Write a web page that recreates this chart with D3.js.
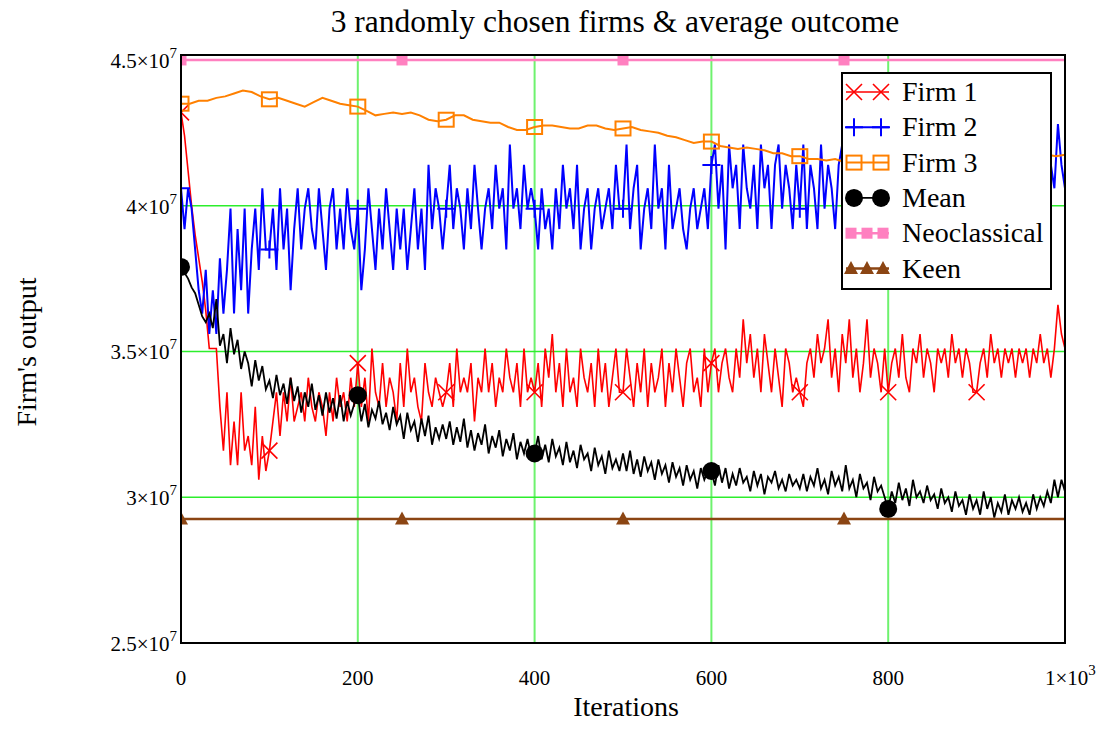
<!DOCTYPE html>
<html>
<head>
<meta charset="utf-8">
<script src="https://cdn.jsdelivr.net/npm/d3@7"></script>
<style>
  body { margin: 0; background: #fff; }
  text { font-family: "Liberation Serif", "Times New Roman", serif; fill: #000; }
</style>
</head>
<body>
<script>
// values in millions of units of output
// firm 1, firm 2 and the mean are sampled every 4 iterations (0..1000)
var firm1 = [
  43.2, 42.4, 41.2, 40.0, 39.0, 38.2, 37.4, 36.4, 35.1, 35.1, 35.1, 33.1, 31.6, 33.6, 31.1, 32.6, 31.1, 33.6, 31.6, 32.1, 31.1, 33.1, 30.6, 32.1, 30.9,
  31.6, 32.6, 33.6, 32.1, 33.6, 32.6, 34.1, 32.6, 33.1, 33.6, 32.6, 34.1, 33.1, 32.6, 33.6, 33.1, 32.1, 33.6, 32.6, 34.1, 33.1, 33.6, 32.6, 34.1, 33.1,
  34.6, 33.1, 34.1, 32.6, 35.1, 33.6, 33.1, 34.6, 33.1, 34.1, 33.6, 32.6, 34.6, 33.1, 35.1, 33.6, 34.1, 33.1, 32.6, 34.6, 33.6, 33.1, 34.1, 33.6, 33.1,
  33.6, 34.6, 33.1, 35.1, 33.6, 34.1, 33.6, 34.6, 32.6, 34.1, 33.6, 35.1, 33.6, 34.6, 33.1, 34.1, 33.6, 35.1, 34.1, 33.6, 34.6, 33.1, 35.1, 33.6, 34.1,
  33.6, 34.6, 33.1, 35.1, 34.1, 35.6, 33.6, 34.6, 33.1, 35.1, 33.6, 34.1, 33.1, 35.1, 34.1, 33.6, 34.6, 33.1, 35.1, 33.6, 34.6, 33.1, 34.1, 35.1, 33.6,
  33.6, 35.1, 34.1, 33.1, 34.6, 33.6, 35.1, 33.1, 34.6, 33.6, 34.1, 35.1, 33.1, 34.6, 33.6, 35.1, 34.1, 33.1, 34.6, 35.1, 33.6, 34.1, 33.1, 35.1, 33.6,
  34.6, 35.1, 33.6, 34.6, 35.1, 34.1, 33.6, 35.1, 34.1, 36.1, 34.6, 35.6, 34.1, 35.1, 33.6, 35.6, 34.6, 33.6, 35.1, 34.1, 33.1, 35.1, 34.6, 33.6, 34.1,
  33.6, 33.1, 34.6, 35.1, 34.1, 35.6, 34.6, 35.1, 36.1, 34.1, 35.1, 33.6, 35.6, 34.6, 36.1, 34.1, 35.1, 33.6, 34.6, 36.1, 34.1, 35.1, 34.6, 33.6, 35.1,
  33.6, 34.6, 35.1, 34.1, 35.6, 34.1, 33.6, 35.1, 34.6, 35.6, 34.1, 35.1, 34.6, 33.6, 35.1, 34.6, 35.1, 34.1, 35.6, 34.6, 35.1, 34.1, 35.1, 34.6, 33.6,
  33.6, 34.6, 35.1, 34.1, 35.6, 34.6, 35.1, 34.1, 35.1, 34.6, 35.1, 34.1, 35.1, 34.6, 35.1, 34.1, 35.1, 34.6, 35.6, 34.6, 35.1, 34.1, 35.1, 36.6, 35.6,
  35.1
];
var firm2 = [
  40.6, 39.2, 40.6, 39.9, 38.5, 37.1, 36.3, 37.8, 35.6, 37.1, 35.6, 38.2, 36.3, 37.8, 39.9, 36.3, 39.2, 37.1, 39.9, 36.3, 38.5, 39.9, 37.8, 40.6, 38.5,
  38.5, 39.9, 37.8, 40.6, 38.5, 39.9, 37.1, 39.2, 40.6, 38.5, 39.9, 40.6, 39.2, 38.5, 40.6, 39.2, 37.8, 39.9, 40.6, 38.5, 39.9, 38.5, 40.6, 39.2, 38.5,
  39.9, 37.1, 38.5, 40.6, 39.2, 37.8, 39.9, 38.5, 40.6, 39.2, 37.8, 39.9, 38.5, 39.9, 37.8, 39.2, 40.6, 38.5, 39.9, 37.8, 41.4, 39.2, 40.6, 39.9, 38.5,
  39.9, 41.4, 39.2, 40.6, 39.9, 38.5, 40.6, 39.2, 41.4, 39.9, 38.5, 39.9, 40.6, 39.2, 41.4, 39.9, 40.6, 38.5, 42.1, 39.9, 40.6, 39.2, 41.4, 39.9, 40.6,
  39.9, 38.5, 40.6, 39.2, 39.9, 38.5, 40.6, 39.2, 41.4, 39.9, 40.6, 39.2, 41.4, 38.5, 39.9, 40.6, 38.5, 39.9, 40.6, 39.2, 39.9, 40.6, 39.2, 41.4, 39.9,
  39.9, 42.1, 39.2, 40.6, 41.4, 38.5, 39.9, 40.6, 39.2, 42.1, 39.9, 40.6, 38.5, 41.4, 39.2, 39.9, 40.6, 39.2, 38.5, 39.9, 40.6, 39.2, 39.9, 40.6, 39.2,
  41.4, 42.1, 39.9, 41.4, 38.5, 42.1, 40.6, 41.4, 39.2, 42.1, 40.6, 39.9, 41.4, 39.2, 42.1, 40.6, 41.4, 39.2, 41.4, 42.1, 39.9, 41.4, 40.6, 39.2, 41.4,
  39.9, 42.1, 39.2, 41.4, 40.6, 39.2, 42.1, 39.9, 41.4, 40.6, 39.2, 41.4, 42.1, 39.9, 40.6, 41.4, 39.2, 42.1, 40.6, 39.9, 41.4, 39.2, 40.6, 42.1, 39.9,
  40.6, 41.4, 39.2, 42.1, 39.9, 40.6, 41.4, 39.2, 40.6, 42.1, 39.9, 41.4, 40.6, 39.2, 41.4, 42.1, 39.9, 40.6, 41.4, 39.2, 42.1, 40.6, 39.9, 41.4, 40.6,
  39.9, 41.4, 40.6, 42.1, 39.2, 40.6, 41.4, 39.9, 42.1, 40.6, 39.9, 41.4, 40.6, 42.1, 39.9, 41.4, 40.6, 39.2, 41.4, 42.1, 40.6, 41.4, 40.6, 42.8, 41.4,
  40.6
];
var meanOut = [
  37.9, 37.7, 37.5, 37.2, 37.0, 36.6, 36.2, 36.0, 36.3, 35.8, 36.8, 35.2, 35.6, 34.6, 35.8, 34.9, 35.4, 34.4, 35.0, 34.6, 33.8, 34.7, 34.0, 34.5, 33.7,
  34.0, 33.4, 34.2, 33.5, 33.9, 33.2, 34.1, 33.3, 33.8, 32.9, 33.6, 33.1, 33.9, 33.0, 33.5, 32.8, 33.6, 32.9, 33.4, 32.7, 33.5, 32.6, 33.3, 32.8, 33.2,
  33.5, 32.6, 33.2, 32.4, 33.0, 32.7, 33.3, 32.5, 32.9, 32.3, 33.1, 32.5, 32.8, 32.0, 32.9, 32.3, 32.6, 31.9, 32.7, 32.1, 32.8, 31.8, 32.4, 32.0, 32.5,
  32.0, 32.6, 31.8, 32.4, 31.9, 32.7, 31.7, 32.3, 31.6, 32.2, 31.8, 32.5, 31.5, 32.1, 31.7, 32.3, 31.4, 32.0, 31.6, 32.2, 31.3, 31.9, 31.5, 32.0, 31.4,
  31.5, 32.1, 31.3, 31.8, 31.2, 32.0, 31.4, 31.7, 31.1, 31.9, 31.2, 31.6, 31.0, 31.8, 31.3, 31.5, 30.9, 31.7, 31.1, 31.4, 30.8, 31.6, 31.0, 31.3, 30.9,
  31.5, 30.9, 31.6, 30.8, 31.3, 30.7, 31.4, 30.9, 31.2, 30.6, 31.3, 30.8, 31.1, 30.5, 31.2, 30.7, 31.0, 30.4, 31.1, 30.6, 30.9, 30.3, 31.0, 30.6, 30.9,
  30.9, 30.4, 31.1, 30.5, 31.0, 30.3, 30.8, 30.4, 31.0, 30.5, 30.7, 30.2, 30.9, 30.4, 30.8, 30.1, 30.7, 30.5, 30.9, 30.3, 30.6, 30.2, 30.8, 30.4, 30.6,
  30.3, 30.8, 30.2, 30.7, 30.4, 31.0, 30.3, 30.6, 30.1, 30.9, 30.4, 30.7, 30.2, 31.1, 30.3, 30.6, 30.0, 30.8, 30.3, 30.5, 29.9, 30.7, 30.2, 30.4, 30.0,
  29.6, 30.2, 29.8, 30.5, 29.9, 30.3, 29.7, 30.6, 30.0, 30.2, 29.8, 30.4, 29.9, 30.1, 29.6, 30.3, 29.8, 30.0, 29.5, 30.2, 29.7, 29.9, 29.4, 30.1, 29.6,
  29.9, 29.4, 30.2, 29.6, 30.0, 29.3, 29.8, 29.5, 30.1, 29.4, 29.9, 29.6, 30.0, 29.5, 29.8, 29.4, 30.1, 29.6, 30.0, 29.7, 30.2, 29.8, 30.6, 30.0, 30.6,
  30.2
];
// firm 3 is smooth, sampled every 10 iterations (0..1000)
var firm3 = [
  43.5, 43.5, 43.6, 43.6, 43.7, 43.75, 43.85, 43.95, 43.9, 43.75,
  43.65, 43.7, 43.6, 43.5, 43.4, 43.55, 43.7, 43.6, 43.5, 43.45,
  43.4, 43.25, 43.1, 43.15, 43.2, 43.15, 43.2, 43.1, 42.95, 42.9,
  42.95, 43.1, 43.1, 42.95, 42.9, 42.85, 42.85, 42.7, 42.6, 42.6,
  42.7, 42.75, 42.75, 42.7, 42.65, 42.65, 42.75, 42.75, 42.65, 42.6,
  42.65, 42.7, 42.6, 42.55, 42.5, 42.4, 42.35, 42.25, 42.15, 42.2,
  42.2, 42.05, 42.0, 41.95, 42.0, 41.95, 41.9, 41.8, 41.8, 41.7,
  41.7, 41.6, 41.6, 41.55, 41.6, 41.5, 41.5, 41.55, 41.5, 41.45,
  41.5, 41.5, 41.45, 41.5, 41.5, 41.55, 41.5, 41.6, 41.55, 41.6,
  41.65, 41.6, 41.7, 41.65, 41.7, 41.75, 41.7, 41.8, 41.75, 41.7,
  41.75
];
var neoIters = [0, 250, 500, 750, 1000];
var neoclassical = [45.0, 45.0, 45.0, 45.0, 45.0];
var keenIters = [0, 250, 500, 750, 1000];
var keen = [29.25, 29.25, 29.25, 29.25, 29.25];

var markEvery100 = [0, 100, 200, 300, 400, 500, 600, 700, 800, 900];
var markEvery200 = [0, 200, 400, 600, 800];
var markEvery250 = [0, 250, 500, 750];

var yTicks = [25, 30, 35, 40, 45];
var yTickText = ['2.5', '3', '3.5', '4', '4.5'];
var xTicks = [0, 200, 400, 600, 800, 1000];
var xTickText = ['0', '200', '400', '600', '800', '1\u00d710'];

var width = 1099, height = 744;
var plotL = 181, plotR = 1065, plotT = 55, plotB = 643;

var x = d3.scaleLinear().domain([0, 1000]).range([plotL, plotR]);
var y = d3.scaleLinear().domain([25, 45.17]).range([plotB, plotT]);

var svg = d3.select('body').append('svg')
  .attr('width', width)
  .attr('height', height);

svg.append('defs').append('clipPath').attr('id', 'plot')
  .append('rect')
  .attr('x', plotL).attr('y', plotT - 6)
  .attr('width', plotR - plotL).attr('height', plotB - plotT + 6);

// gridlines
svg.append('g').selectAll('line')
  .data(xTicks.slice(1, -1))
  .enter().append('line')
  .attr('x1', function(d) { return x(d); })
  .attr('x2', function(d) { return x(d); })
  .attr('y1', plotT).attr('y2', plotB)
  .attr('stroke', '#6ef26e').attr('stroke-width', 2);
svg.append('g').selectAll('line')
  .data(yTicks.slice(1, -1))
  .enter().append('line')
  .attr('x1', plotL).attr('x2', plotR)
  .attr('y1', function(d) { return y(d); })
  .attr('y2', function(d) { return y(d); })
  .attr('stroke', '#2cee2c').attr('stroke-width', 1.4);

var plot = svg.append('g').attr('clip-path', 'url(#plot)');

function series(iters, vals) {
  return iters.map(function(it, i) { return [it, vals[i]]; });
}
var it4 = firm1.map(function(d, i) { return i * 4; });
var it10 = firm3.map(function(d, i) { return i * 10; });

var line = d3.line()
  .x(function(d) { return x(d[0]); })
  .y(function(d) { return y(d[1]); });

function pick(data, its) {
  return its.map(function(it) {
    var best = data[0];
    data.forEach(function(p) { if (Math.abs(p[0] - it) < Math.abs(best[0] - it)) best = p; });
    return best;
  });
}

var traces = [
  { name: 'Firm 1', data: series(it4, firm1), color: '#ff0000', w: 1.6, mark: 'x', marks: markEvery100 },
  { name: 'Firm 2', data: series(it4, firm2), color: '#0000ff', w: 2, mark: 'plus', marks: markEvery100 },
  { name: 'Firm 3', data: series(it10, firm3), color: '#ff8000', w: 2, mark: 'box', marks: markEvery100 },
  { name: 'Mean', data: series(it4, meanOut), color: '#000000', w: 1.8, mark: 'dot', marks: markEvery200 },
  { name: 'Neoclassical', data: series(neoIters, neoclassical), color: '#ff80c0', w: 2.5, mark: 'sq', marks: markEvery250 },
  { name: 'Keen', data: series(keenIters, keen), color: '#8b4513', w: 2.5, mark: 'tri', marks: markEvery250 }
];

function drawMark(g, kind, color, cx, cy) {
  if (kind === 'x') {
    g.append('path').attr('d', 'M' + (cx - 8) + ',' + (cy - 8) + 'L' + (cx + 8) + ',' + (cy + 8) +
      'M' + (cx - 8) + ',' + (cy + 8) + 'L' + (cx + 8) + ',' + (cy - 8))
      .attr('stroke', color).attr('stroke-width', 1.6).attr('fill', 'none');
  } else if (kind === 'plus') {
    g.append('path').attr('d', 'M' + (cx - 9) + ',' + cy + 'L' + (cx + 9) + ',' + cy +
      'M' + cx + ',' + (cy - 9) + 'L' + cx + ',' + (cy + 9))
      .attr('stroke', color).attr('stroke-width', 2).attr('fill', 'none');
  } else if (kind === 'box') {
    g.append('rect').attr('x', cx - 7.5).attr('y', cy - 7).attr('width', 15).attr('height', 14)
      .attr('stroke', color).attr('stroke-width', 2).attr('fill', 'none');
  } else if (kind === 'dot') {
    g.append('circle').attr('cx', cx).attr('cy', cy).attr('r', 9).attr('fill', color);
  } else if (kind === 'sq') {
    g.append('rect').attr('x', cx - 5.5).attr('y', cy - 5.5).attr('width', 11).attr('height', 11)
      .attr('fill', color);
  } else if (kind === 'tri') {
    g.append('path').attr('d', 'M' + cx + ',' + (cy - 7.5) + 'L' + (cx + 7) + ',' + (cy + 5.5) +
      'L' + (cx - 7) + ',' + (cy + 5.5) + 'Z').attr('fill', color);
  }
}

traces.forEach(function(t) {
  plot.append('path')
    .attr('d', line(t.data))
    .attr('fill', 'none')
    .attr('stroke', t.color)
    .attr('stroke-width', t.w)
    .attr('stroke-linejoin', 'miter');
  var g = plot.append('g');
  pick(t.data, t.marks).forEach(function(p) {
    drawMark(g, t.mark, t.color, x(p[0]), y(p[1]));
  });
});

// frame
svg.append('rect')
  .attr('x', plotL).attr('y', plotT)
  .attr('width', plotR - plotL).attr('height', plotB - plotT)
  .attr('fill', 'none').attr('stroke', '#000').attr('stroke-width', 2);

// y tick labels, mantissa x 10 with superscript exponent
yTicks.forEach(function(v, i) {
  var t = svg.append('text')
    .attr('x', plotL - 4).attr('y', y(v) + 8)
    .attr('text-anchor', 'end')
    .style('font-size', '21px');
  t.append('tspan').text(yTickText[i] + '\u00d710');
  t.append('tspan').attr('dy', -10).style('font-size', '15px').text('7');
});

// x tick labels
xTicks.forEach(function(v, i) {
  var t = svg.append('text')
    .attr('x', x(v)).attr('y', plotB + 42)
    .attr('text-anchor', 'middle')
    .style('font-size', '21px');
  t.append('tspan').text(xTickText[i]);
  if (v === 1000) {
    t.attr('text-anchor', 'start').attr('x', x(v) - 20);
    t.append('tspan').attr('dy', -10).style('font-size', '15px').text('3');
  }
});

// titles
svg.append('text')
  .attr('x', 615).attr('y', 32)
  .attr('text-anchor', 'middle')
  .style('font-size', '31.5px')
  .text('3 randomly chosen firms & average outcome');
svg.append('text')
  .attr('x', 626).attr('y', 716)
  .attr('text-anchor', 'middle')
  .style('font-size', '28px')
  .text('Iterations');
svg.append('text')
  .attr('transform', 'translate(36,352) rotate(-90)')
  .attr('text-anchor', 'middle')
  .style('font-size', '28px')
  .text("Firm's output");

// legend
var lg = svg.append('g');
lg.append('rect')
  .attr('x', 842).attr('y', 73).attr('width', 209).attr('height', 216)
  .attr('fill', '#fff').attr('stroke', '#000').attr('stroke-width', 2);
traces.forEach(function(t, i) {
  var cy = 92 + i * 35.3;
  lg.append('line')
    .attr('x1', 846).attr('x2', 889)
    .attr('y1', cy).attr('y2', cy)
    .attr('stroke', t.color).attr('stroke-width', t.w);
  var pos = (t.mark === 'sq' || t.mark === 'tri') ? [851, 867, 883] : [854, 881];
  pos.forEach(function(px) { drawMark(lg, t.mark, t.color, px, cy); });
  lg.append('text')
    .attr('x', 902).attr('y', cy + 9)
    .style('font-size', '28px')
    .text(t.name);
});
</script>
</body>
</html>
